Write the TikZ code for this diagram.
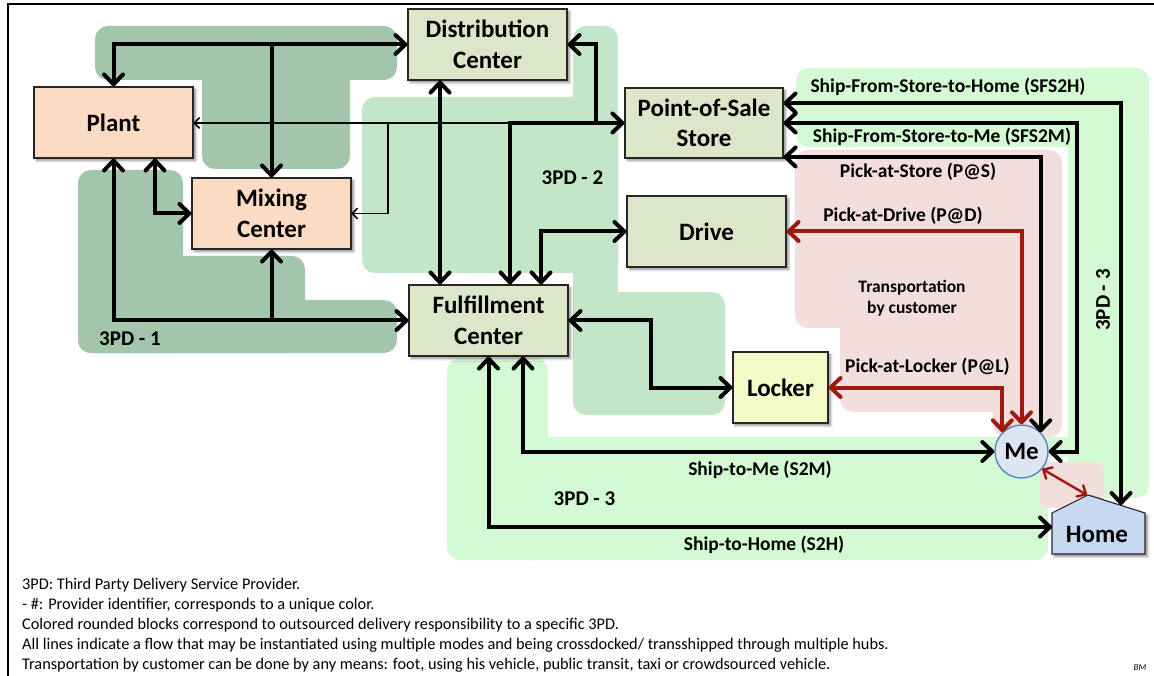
\documentclass[tikz,border=0pt]{standalone}
\usepackage{fontspec}
\setmainfont{Carlito}
\usetikzlibrary{arrows.meta,shadows.blur}

\definecolor{peach}{HTML}{FCDBC4}
\definecolor{olive}{HTML}{DEE6CA}
\definecolor{lockerfill}{HTML}{F4FAC8}
\definecolor{mefill}{HTML}{DCE6F2}
\definecolor{meline}{HTML}{4F81BD}
\definecolor{homefill}{HTML}{C6D9F0}
\definecolor{pdone}{HTML}{A3C6AA}
\definecolor{pdtwo}{HTML}{C4E6C8}
\definecolor{pdthree}{HTML}{D4FAD4}
\definecolor{custpink}{HTML}{F2DEDC}
\definecolor{flowred}{HTML}{A0190F}

\newcommand\boxfnt{\fontsize{25}{30.5}\selectfont\bfseries}
\newcommand\lblfnt{\fontsize{19.5}{23}\selectfont\bfseries}
\newcommand\pdfnt{\fontsize{21}{25}\selectfont\bfseries}
\newcommand\custfnt{\fontsize{17.5}{21}\selectfont\bfseries}
\newcommand\notefnt{\fontsize{16.3}{19.5}\selectfont}

\tikzset{
  shade3d/.style={blur shadow={shadow xshift=2.5pt,shadow yshift=-2.5pt,
      shadow blur steps=6,shadow blur radius=2.5pt,shadow opacity=45}},
  box/.style={draw=black!85,line width=1.1pt,minimum width=159pt,
      minimum height=71pt,inner sep=0pt,align=center,font=\boxfnt,shade3d},
  zone/.style={rounded corners=13pt},
  flow/.style={line width=4pt,draw=black,
      >={Straight Barb[length=10pt,width=19pt,round]}},
  thinflow/.style={line width=1.6pt,draw=black,
      >={Straight Barb[length=5pt,width=10pt,round]}},
  redflow/.style={line width=4pt,draw=flowred,
      >={Straight Barb[length=10pt,width=19pt,round]}},
  redthin/.style={line width=2.4pt,draw=flowred,
      >={Straight Barb[length=7pt,width=13pt,round]}},
  lbl/.style={font=\lblfnt,inner sep=0pt,anchor=base},
  pdlbl/.style={font=\pdfnt,inner sep=0pt,anchor=base},
  note/.style={font=\notefnt,inner sep=0pt,anchor=base west},
}

\begin{document}
\begin{tikzpicture}[x=1pt,y=-1pt]
\useasboundingbox (0,0) rectangle (1154,676);
\clip (0,0) rectangle (1154,676);

% outer frame
\draw[line width=2.4pt] (8,4) rectangle (1200,720);

% ---- 3PD-3 zone
\fill[pdthree,zone] (796,68) rectangle (1149,147);
\fill[pdthree,zone] (1068,68) rectangle (1149,498);
\fill[pdthree,zone] (447,358) rectangle (548,560);
\fill[pdthree,zone] (447,437) rectangle (1048,560);
\fill[pdthree] (540,437) rectangle (1090,457);

% ---- transportation by customer zone
\fill[custpink,zone] (795,150) rectangle (1062,328);
\fill[custpink,zone] (840,150) rectangle (1062,412);
\fill[custpink,zone] (993,300) rectangle (1062,437);
\fill[custpink,rounded corners=7pt] (1040,462) rectangle (1103,508);

% ---- 3PD-2 zone
\fill[pdtwo,zone] (362,97) rectangle (618,273);
\fill[pdtwo,zone] (573,26) rectangle (618,400);
\fill[pdtwo,zone] (573,292) rectangle (725,415);

% ---- 3PD-1 zone
\fill[pdone,zone] (95,26) rectangle (397,80);
\fill[pdone,zone] (202,60) rectangle (350,169);
\fill[pdone,zone] (78,170) rectangle (183,353);
\fill[pdone,zone] (78,256) rectangle (305,353);
\fill[pdone,zone] (78,300) rectangle (397,353);

% ---- facilities
\node[box,fill=peach] (Plant) at (113.5,122.5) {Plant};
\node[box,fill=peach] (Mixing) at (271.5,213.5) {Mixing\\Center};
\node[box,fill=olive] (DC) at (487.5,44.5) {Distribution\\Center};
\node[box,fill=olive,minimum width=158pt,minimum height=70pt] (Store) at (704,123) {Point-of-Sale\\Store};
\node[box,fill=olive] (Drive) at (706.5,231.5) {Drive};
\node[box,fill=olive] (FC) at (488.5,320.5) {Fulfillment\\Center};
\node[box,fill=lockerfill,minimum width=95pt] (Locker) at (780.5,387.5) {Locker};
\node[circle,draw=meline,line width=1.3pt,fill=mefill,minimum size=53pt,
      inner sep=0pt,font=\boxfnt] (Me) at (1021.5,451.5) {Me};

% home outline and its label
\path[draw=black!85,line width=1.1pt,fill=homefill,shade3d]
  (1052,554) -- (1052,513) -- (1088,495) -- (1145,513) -- (1145,554) -- cycle;
\node[font=\boxfnt,inner sep=0pt] (Home) at (1097,534) {Home};
\coordinate (homeW) at (1052,527);
\coordinate (homeR) at (1121,505);
\coordinate (homeA) at (1087,495);

% ---- junction points
\coordinate (storeJ) at (510,123);
\coordinate (mixJ) at (388,123);
\coordinate (dcJ) at (596,123);
\coordinate (lockJ) at (651,320.5);
\coordinate (sfsM) at (1077,123);

% ---- upstream flows
\draw[flow,<->] (Plant.north) |- (DC.west);
\draw[flow,->] (Mixing.north |- DC.west) -- (Mixing.north);
\draw[flow,<->] (Plant.south) |- (FC.west);
\draw[flow,->] (Mixing.south |- FC.west) -- (Mixing.south);
\draw[flow,<->] ([xshift=41.5pt]Plant.south) |- (Mixing.west);
\draw[thinflow,->] (storeJ) -- (Plant.east |- storeJ);
\draw[thinflow,->] (mixJ) |- (Mixing.east);
\draw[flow,<->] (Store.west) -- (storeJ) -- (storeJ |- FC.north);
\draw[flow,->] (dcJ) |- (DC.east);
\draw[flow,<->] ([xshift=-47.5pt]DC.south) -- ([xshift=-48.5pt]FC.north);
\draw[flow,<->] (Drive.west) -| ([xshift=52.5pt]FC.north);
\draw[flow,<->] (FC.east) -- (lockJ) |- (Locker.west);

% ---- last-mile flows
\draw[flow,<->] ([xshift=34.5pt]FC.south) |- (Me.west);
\draw[flow,<->] (FC.south) |- (homeW);
\draw[flow,<->] ([yshift=20pt]Store.east) -| (homeR);
\draw[flow,<->] (Store.east) -- (sfsM) |- (Me.east);
\draw[flow,<->] ([yshift=-34pt]Store.east) -| (Me.north east);
\draw[redflow,<->] (Drive.east) -| (Me.north);
\draw[redflow,<->] (Locker.east) -| (Me.north west);
\draw[redthin,<->] (Me.-40) -- (homeA);

% ---- flow labels
\node[lbl] (l1) at (948,93) {Ship-From-Store-to-Home (SFS2H)};
\node[lbl] (l2) at (942,143) {Ship-From-Store-to-Me (SFS2M)};
\node[lbl] (l3) at (918,178) {Pick-at-Store (P@S)};
\node[lbl] (l4) at (903,222) {Pick-at-Drive (P@D)};
\node[lbl] (l5) at (927.5,372) {Pick-at-Locker (P@L)};
\node[lbl] (l6) at (760,475) {Ship-to-Me (S2M)};
\node[lbl] (l7) at (764,550) {Ship-to-Home (S2H)};
\node[font=\custfnt,align=center,inner sep=0pt] (cust) at (912,298)
  {Transportation\\by customer};

% ---- provider labels
\node[pdlbl] (pd1) at (130,345) {3PD - 1};
\node[pdlbl] (pd2) at (572.5,185) {3PD - 2};
\node[pdlbl] (pd3) at (584.5,505) {3PD - 3};
\node[font=\pdfnt,inner sep=0pt,rotate=90] (pd3b) at (1103,300) {3PD - 3};

% ---- legend
\node[note] (n1) at (22,589) {3PD: Third Party Delivery Service Provider.};
\node[note] (n2) at (22,609) {- \#: Provider identifier, corresponds to a unique color.};
\node[note] (n3) at (22,629) {Colored rounded blocks correspond to outsourced delivery responsibility to a specific 3PD.};
\node[note] (n4) at (22,649) {All lines indicate a flow that may be instantiated using multiple modes and being crossdocked/ transshipped through multiple hubs.};
\node[note] (n5) at (22,669) {Transportation by customer can be done by any means: foot, using his vehicle, public transit, taxi or crowdsourced vehicle.};
\node[font=\fontsize{9}{9}\selectfont\itshape,inner sep=0pt] (sig) at (1140,668) {BM};
\end{tikzpicture}
\end{document}
